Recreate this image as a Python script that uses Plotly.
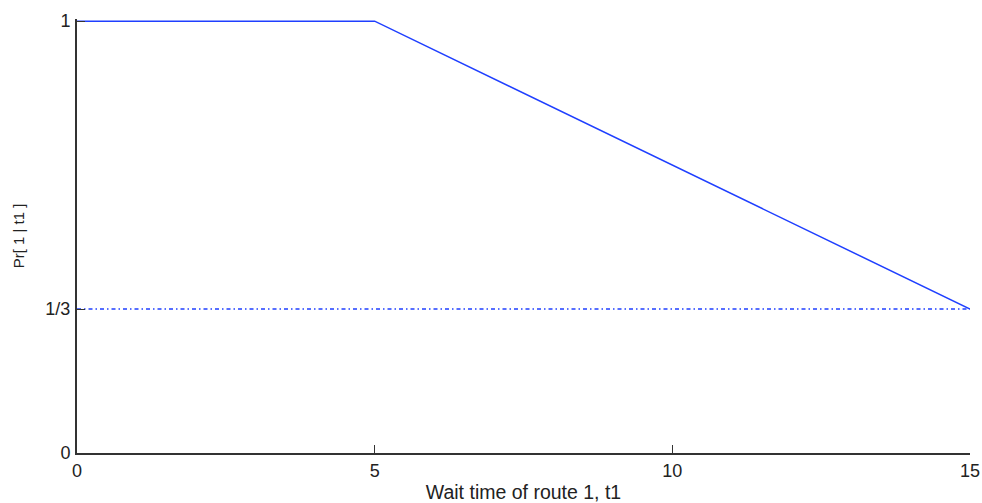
import plotly.graph_objects as go

# data
t_curve = [0, 5, 15]
pr_curve = [1, 1, 1/3]
t_ref = [0, 15]
pr_ref = [1/3, 1/3]
x_ticks = [0, 5, 10, 15]
y_ticks = [0, 1/3, 1]
y_tick_labels = ["0", "1/3", "1"]

blue = "#1f3fff"
fig = go.Figure()
fig.add_trace(go.Scatter(x=t_ref, y=pr_ref, mode="lines",
                         line=dict(color=blue, width=1.5, dash="4px,3px,1.5px,3px")))
fig.add_trace(go.Scatter(x=t_curve, y=pr_curve, mode="lines",
                         line=dict(color=blue, width=1.5)))

fam = "Liberation Sans, Arial, sans-serif"
fig.update_layout(
    width=982, height=503,
    margin=dict(l=77, r=12, t=19, b=50),
    paper_bgcolor="white", plot_bgcolor="white",
    showlegend=False,
    font=dict(family=fam, color="#222"),
)
fig.update_xaxes(range=[0, 15], tickvals=x_ticks, ticktext=[str(v) for v in x_ticks],
                 ticks="inside", ticklen=8, tickcolor="#333", tickwidth=1.2,
                 showline=True, linecolor="#333", linewidth=2, showgrid=False, zeroline=False,
                 automargin=False, ticklabelstandoff=0, ticklabeloverflow="allow",
                 tickfont=dict(size=18, family=fam, color="#222"),
                 title=dict(text="Wait time of route 1, t1", font=dict(size=19.5, family=fam, color="#222"), standoff=7))
fig.update_yaxes(range=[0, 1.005], tickvals=y_ticks, ticktext=y_tick_labels,
                 ticks="inside", ticklen=8, tickcolor="#333", tickwidth=1.2,
                 showline=True, linecolor="#333", linewidth=2, showgrid=False, zeroline=False,
                 automargin=False, ticklabelstandoff=1,
                 tickfont=dict(size=18, family=fam, color="#222"),
                 title=dict(text="Pr[ 1 | t1 ]", font=dict(size=15, family=fam, color="#222"), standoff=17))

fig.write_html("out.html",
               config={"displayModeBar": False},
               post_script="document.body.style.margin='0';document.body.style.overflow='hidden';")
